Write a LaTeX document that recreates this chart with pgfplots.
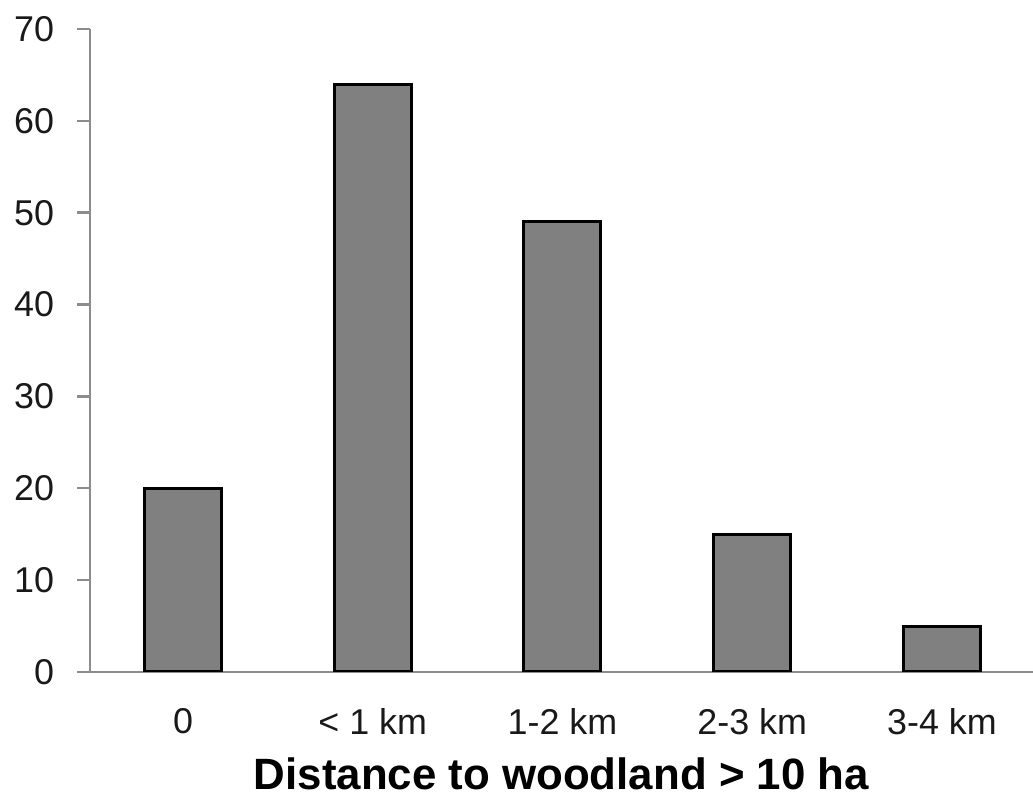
\documentclass[border=0pt]{standalone}
\usepackage{fontspec}
\setmainfont{Liberation Sans}
\usepackage{pgfplots}
\pgfplotsset{compat=1.18}
\definecolor{barfill}{HTML}{808080}
\definecolor{axisgray}{HTML}{8C8C8C}
\begin{document}
\begin{tikzpicture}
\begin{axis}[
  name=ax,
  scale only axis,
  width=471.5bp, height=321.5bp,
  ybar, bar width=0.406,
  xmin=-0.49, xmax=4.48,
  ymin=0, ymax=70,
  ytick={0,10,...,70},
  xtick={0,1,2,3,4},
  xticklabels={0,< 1 km,1-2 km,2-3 km,3-4 km},
  axis lines*=left,
  axis line style={axisgray, line width=1.2bp, -},
  ytick style={axisgray, line width=1.2bp},
  major tick length=6.5bp,
  tick align=outside,
  xtick style={draw=none},
  /pgf/number format/assume math mode=true,
  ticklabel style={font=\fontsize{18}{21}\selectfont, text=black!90},
  yticklabel style={xshift=-8bp},
  xticklabel style={yshift=-8bp},
  xlabel={\textbf{Distance to woodland > 10 ha}},
  xlabel style={font=\fontsize{22}{25}\selectfont, inner sep=0pt, text depth=0pt, yshift=-8bp},
]
\addplot[fill=barfill, draw=black, line width=1.5bp] coordinates
{(0,20) (1,64) (2,49) (3,15) (4,5)};
\end{axis}
\pgfresetboundingbox
\path[use as bounding box] ([shift={(-45bp,-62bp)}]ax.south west) rectangle ([shift={(0bp,14.5bp)}]ax.north east);
\end{tikzpicture}
\end{document}
